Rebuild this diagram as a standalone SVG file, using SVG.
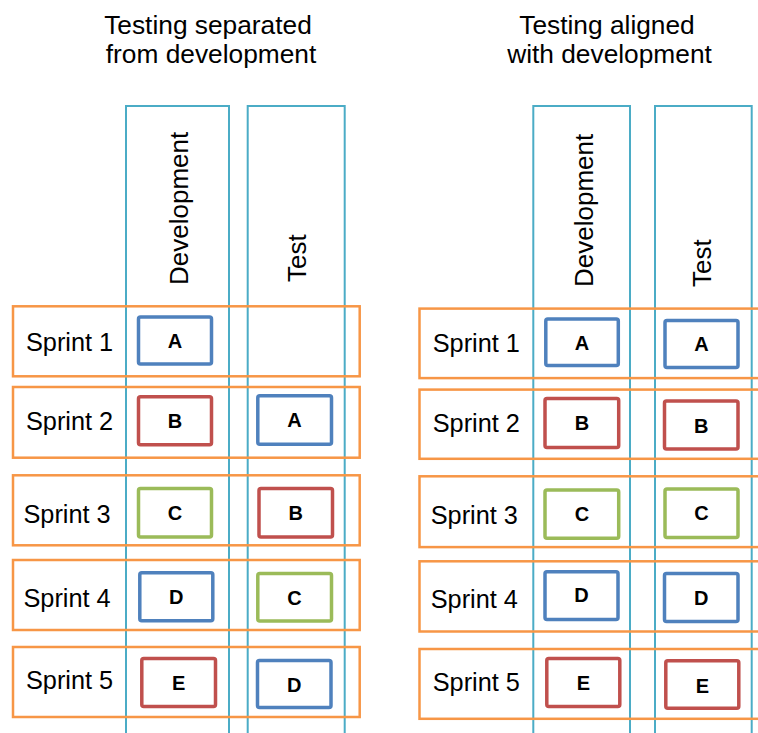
<svg xmlns="http://www.w3.org/2000/svg" width="758" height="733" viewBox="0 0 758 733">
  <style>
    .title { font-family: "Liberation Sans", Arial, sans-serif; font-size: 26.3px; fill: #000; text-anchor: middle; }
    .head { font-family: "Liberation Sans", Arial, sans-serif; font-size: 26px; fill: #000; }
    .sprint { font-family: "Liberation Sans", Arial, sans-serif; font-size: 25.3px; fill: #000; }
    .lane { fill: none; stroke: #4BACC6; stroke-width: 2; }
    .row { fill: none; stroke: #F79646; stroke-width: 2.5; }
    .item { fill: #fff; stroke-width: 3.5; }
    .blue { stroke: #4F81BD; }
    .red { stroke: #C0504D; }
    .green { stroke: #9BBB59; }
    .letter { font-family: "Liberation Sans", Arial, sans-serif; font-size: 20px; font-weight: bold; fill: #000; text-anchor: middle; }
  </style>

  <rect width="758" height="733" fill="#fff"/>

  <!-- Titles -->
  <g id="title-separated">
    <text class="title" x="208" y="34">Testing separated</text>
    <text class="title" x="211" y="63">from development</text>
  </g>
  <g id="title-aligned">
    <text class="title" x="607" y="34">Testing aligned</text>
    <text class="title" x="609.5" y="63">with development</text>
  </g>

  <!-- Lanes (columns) -->
  <g id="lane-sep-dev">
    <rect class="lane" x="126" y="106" width="103" height="700"/>
    <text class="head" transform="translate(187.5,285) rotate(-90)">Development</text>
  </g>
  <g id="lane-sep-test">
    <rect class="lane" x="247.7" y="106" width="97" height="700"/>
    <text class="head" transform="translate(305.5,282) rotate(-90)">Test</text>
  </g>
  <g id="lane-ali-dev">
    <rect class="lane" x="533.3" y="106" width="96.7" height="700"/>
    <text class="head" transform="translate(593,287) rotate(-90)">Development</text>
  </g>
  <g id="lane-ali-test">
    <rect class="lane" x="655" y="106" width="96.7" height="700"/>
    <text class="head" transform="translate(710.5,287) rotate(-90)">Test</text>
  </g>

  <!-- Sprint rows: separated -->
  <g id="sep-sprint-1">
    <rect class="row" x="13" y="306.3" width="346.7" height="70"/>
    <text class="sprint" x="26" y="351">Sprint 1</text>
  </g>
  <g id="sep-sprint-2">
    <rect class="row" x="13" y="387" width="346.7" height="70.7"/>
    <text class="sprint" x="26" y="429.5">Sprint 2</text>
  </g>
  <g id="sep-sprint-3">
    <rect class="row" x="13" y="475.3" width="346.7" height="70"/>
    <text class="sprint" x="23.5" y="522.7">Sprint 3</text>
  </g>
  <g id="sep-sprint-4">
    <rect class="row" x="13" y="560" width="346.7" height="70"/>
    <text class="sprint" x="23.5" y="606.7">Sprint 4</text>
  </g>
  <g id="sep-sprint-5">
    <rect class="row" x="13" y="647" width="346.7" height="70"/>
    <text class="sprint" x="26" y="689.3">Sprint 5</text>
  </g>

  <!-- Sprint rows: aligned -->
  <g id="ali-sprint-1">
    <rect class="row" x="419.5" y="308.6" width="360" height="69.5"/>
    <text class="sprint" x="432.7" y="351.7">Sprint 1</text>
  </g>
  <g id="ali-sprint-2">
    <rect class="row" x="419.5" y="389.6" width="360" height="69.2"/>
    <text class="sprint" x="432.7" y="431.7">Sprint 2</text>
  </g>
  <g id="ali-sprint-3">
    <rect class="row" x="419.5" y="476.3" width="360" height="70.8"/>
    <text class="sprint" x="430.7" y="524">Sprint 3</text>
  </g>
  <g id="ali-sprint-4">
    <rect class="row" x="419.5" y="561.3" width="360" height="70.2"/>
    <text class="sprint" x="430.7" y="607.7">Sprint 4</text>
  </g>
  <g id="ali-sprint-5">
    <rect class="row" x="419.5" y="649" width="360" height="69.8"/>
    <text class="sprint" x="432.7" y="690.7">Sprint 5</text>
  </g>

  <!-- Work items: separated -->
  <g id="sep-dev-a">
    <rect class="item blue" x="138.5" y="317" width="73" height="47" rx="2"/>
    <text class="letter" x="175" y="347.7">A</text>
  </g>
  <g id="sep-dev-b">
    <rect class="item red" x="138.5" y="396.8" width="73" height="48" rx="2"/>
    <text class="letter" x="175" y="428">B</text>
  </g>
  <g id="sep-test-a">
    <rect class="item blue" x="257.8" y="395.8" width="73.7" height="48.4" rx="2"/>
    <text class="letter" x="294.6" y="427.2">A</text>
  </g>
  <g id="sep-dev-c">
    <rect class="item green" x="138.5" y="488.5" width="73" height="48.4" rx="2"/>
    <text class="letter" x="175" y="520">C</text>
  </g>
  <g id="sep-test-b">
    <rect class="item red" x="259" y="488.5" width="73.5" height="48.4" rx="2"/>
    <text class="letter" x="295.8" y="520">B</text>
  </g>
  <g id="sep-dev-d">
    <rect class="item blue" x="139.8" y="572.8" width="73" height="48" rx="2"/>
    <text class="letter" x="176.3" y="603.8">D</text>
  </g>
  <g id="sep-test-c">
    <rect class="item green" x="257.8" y="573.5" width="73.7" height="47.6" rx="2"/>
    <text class="letter" x="294.6" y="604.5">C</text>
  </g>
  <g id="sep-dev-e">
    <rect class="item red" x="141.8" y="658.5" width="73.7" height="48" rx="2"/>
    <text class="letter" x="178.6" y="690.2">E</text>
  </g>
  <g id="sep-test-d">
    <rect class="item blue" x="257.5" y="660.5" width="73.5" height="47" rx="2"/>
    <text class="letter" x="294.2" y="691.7">D</text>
  </g>

  <!-- Work items: aligned -->
  <g id="ali-dev-a">
    <rect class="item blue" x="545.8" y="319" width="72.5" height="46.5" rx="2"/>
    <text class="letter" x="582" y="349.5">A</text>
  </g>
  <g id="ali-test-a">
    <rect class="item blue" x="665" y="320.5" width="73" height="47" rx="2"/>
    <text class="letter" x="701.5" y="351.2">A</text>
  </g>
  <g id="ali-dev-b">
    <rect class="item red" x="545" y="398.5" width="73.7" height="49" rx="2"/>
    <text class="letter" x="582" y="430.2">B</text>
  </g>
  <g id="ali-test-b">
    <rect class="item red" x="664.5" y="401" width="73.5" height="48" rx="2"/>
    <text class="letter" x="701.3" y="432.7">B</text>
  </g>
  <g id="ali-dev-c">
    <rect class="item green" x="545" y="490" width="73.7" height="48.3" rx="2"/>
    <text class="letter" x="582" y="521.2">C</text>
  </g>
  <g id="ali-test-c">
    <rect class="item green" x="665" y="489" width="73" height="48.5" rx="2"/>
    <text class="letter" x="701.5" y="520.2">C</text>
  </g>
  <g id="ali-dev-d">
    <rect class="item blue" x="545" y="571.8" width="73" height="47.7" rx="2"/>
    <text class="letter" x="581.5" y="602.2">D</text>
  </g>
  <g id="ali-test-d">
    <rect class="item blue" x="664.5" y="573.5" width="73.5" height="48" rx="2"/>
    <text class="letter" x="701.3" y="604.7">D</text>
  </g>
  <g id="ali-dev-e">
    <rect class="item red" x="546.8" y="658.5" width="73" height="48" rx="2"/>
    <text class="letter" x="583.3" y="690.2">E</text>
  </g>
  <g id="ali-test-e">
    <rect class="item red" x="665.8" y="660.8" width="73" height="47.5" rx="2"/>
    <text class="letter" x="702.3" y="692.7">E</text>
  </g>
</svg>
